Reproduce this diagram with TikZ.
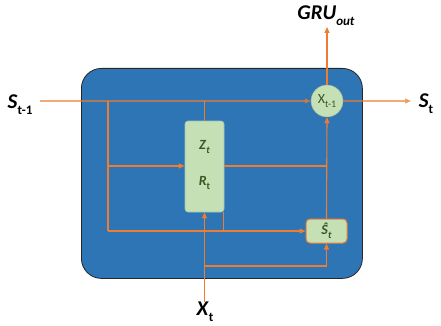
\documentclass[tikz,border=0pt]{standalone}
\usepackage{fontspec}
\setmainfont{Carlito}
\usetikzlibrary{arrows.meta}
\definecolor{cblue}{HTML}{2E75B6}
\definecolor{corange}{HTML}{ED7D31}
\definecolor{cgreen}{HTML}{C5E0B4}
\definecolor{cdark}{HTML}{385723}
\newcommand\cellsub[1]{\raisebox{-0.3em}{\fontsize{13}{15}\selectfont #1}}
\newcommand\insub[1]{\raisebox{-0.25em}{\fontsize{10}{11}\selectfont #1}}
\begin{document}
\begin{tikzpicture}[x=1pt,y=-1pt,
  wire/.style={corange, line width=1.1pt},
  arr/.style={wire, -{Triangle[length=6pt,width=5pt]}},
  faded/.style={draw opacity=0.65, fill opacity=0.65},
  outlab/.style={inner sep=0pt, font=\fontsize{21}{24}\selectfont\bfseries},
  inlab/.style={inner sep=0pt, text=cdark, font=\fontsize{14}{16}\selectfont\bfseries}]
\useasboundingbox (0,0) rectangle (441,326);
% cell
\node[draw=black!85, fill=cblue, rounded corners=20pt, line width=0.8pt,
      minimum width=281pt, minimum height=210pt, anchor=north west, inner sep=0pt] (cell) at (81,68) {};
% gate box
\node[fill=cgreen, draw=cgreen!75!cblue, line width=0.6pt, rounded corners=3pt,
      minimum width=39pt, minimum height=91pt, inner sep=0pt] (gate) at (204.5,166.5) {};
\node[inlab] (zt) at (204.5,147) {\textit{Z}\insub{\textit{t}}};
\node[inlab] (rt) at (204.5,183) {\textit{R}\insub{t}};
% multiplication circle
\node[circle, fill=cgreen, draw=cgreen!80!black, line width=0.4pt, minimum size=32pt, inner sep=0pt,
      text=cdark, font=\fontsize{14}{16}\selectfont] (mul) at (327,101) {X\insub{t-1}};
% candidate state
\node[fill=cgreen, draw=corange, line width=1pt, rounded corners=4pt,
      minimum width=41pt, minimum height=24pt, inner sep=0pt,
      text=cdark, font=\fontsize{14}{16}\selectfont\bfseries] (sh) at (326.5,231) {\textit{Ŝ}\insub{\textit{t}}};
% outside labels
\node[outlab] (sin) at (20,105) {\textit{S}\cellsub{t-1}};
\node[outlab] (sout) at (426,104) {\textit{S}\cellsub{t}};
\node[outlab] (gru) at (326,16) {\textit{GRU}\cellsub{\textit{out}}};
\node[outlab] (xt) at (205,312) {\textit{X}\cellsub{t}};
% coordinates
\coordinate (sinstart) at (40,101);
\coordinate (j1) at (108,101);
\coordinate (j1b) at (108,166);
\coordinate (j1c) at (108,231);
\coordinate (j2) at (204.5,101);
\coordinate (gruend) at (327,27);
\coordinate (soutend) at (411,101);
\coordinate (xstart) at (204.5,302);
\coordinate (xj) at (204.5,266);
\coordinate (xk) at (326.5,266);
\coordinate (rgo) at (223,212);
\coordinate (rgd) at (223,231);
\coordinate (zj) at (326.5,166);
% wires
\draw[arr, faded] (sinstart) -- (mul.west);
\draw[wire] (j1) -- (j1c);
\draw[arr] (j1b) -- (gate.west |- j1b);
\draw[wire] (j2) -- (gate.north);
\draw[arr] (j1c) -- (sh.west);
\draw[wire, line width=0.8pt] (rgo) -- (rgd);
\draw[wire] (gate.east |- zj) -- (zj);
\draw[arr] (sh.north) -- (mul.south);
\draw[arr] (xstart) -- (gate.south);
\draw[wire] (xj) -- (xk);
\draw[arr] (xk) -- (sh.south);
\draw[arr] (mul.north) -- (gruend);
\draw[arr, faded] (mul.east) -- (soutend);
\end{tikzpicture}
\end{document}
